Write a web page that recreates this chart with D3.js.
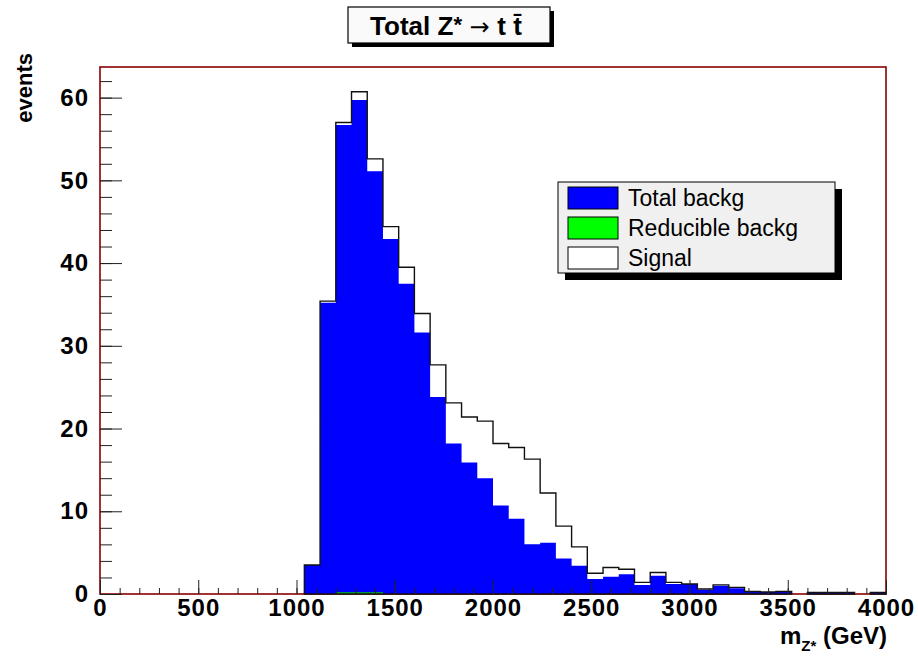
<!DOCTYPE html>
<html>
<head>
<meta charset="utf-8">
<script src="https://cdn.jsdelivr.net/npm/d3@7"></script>
<style>
  body { margin: 0; background: #fff; }
  svg text { font-family: "Liberation Sans", Arial, Helvetica, sans-serif; }
</style>
</head>
<body>
<svg id="chart" width="918" height="659"></svg>
<script>
// lower edges of the 80 GeV bins that hold something (everything below 1040 is empty)
const binLow = [1040, 1120, 1200, 1280, 1360, 1440, 1520, 1600, 1680, 1760,
                1840, 1920, 2000, 2080, 2160, 2240, 2320, 2400, 2480, 2560,
                2640, 2720, 2800, 2880, 2960, 3040, 3120, 3200, 3280, 3360,
                3440, 3520, 3600, 3680, 3760, 3840, 3920];
const binWidth = 80;

// total background (blue)
const backg = [3.5, 35.2, 56.7, 59.7, 51.1, 42.9, 37.5, 31.6, 23.8, 18.2,
               15.9, 14.0, 10.7, 9.1, 6.0, 6.2, 4.3, 3.4, 1.8, 2.1,
               2.4, 1.1, 2.2, 1.2, 1.2, 0.5, 1.0, 0.7, 0.3, 0.25,
               0.3, 0, 0.2, 0.2, 0.2, 0, 0.2];
// signal, stacked on top of the background (white)
const signal = [0, 0.2, 0.3, 1.0, 1.5, 1.5, 2.0, 2.3, 3.9, 4.9,
                5.5, 6.9, 7.5, 8.6, 10.3, 6.0, 3.9, 2.3, 0.7, 1.1,
                0.6, 0.3, 0.4, 0.2, 0, 0.1, 0.1, 0.1, 0, 0,
                0, 0, 0, 0, 0, 0, 0];
// reducible background (green)
const reducible = [0, 0, 0.2, 0.2, 0.2, 0, 0, 0, 0, 0,
                   0, 0, 0, 0, 0, 0, 0, 0, 0, 0,
                   0, 0, 0, 0, 0, 0, 0, 0, 0, 0,
                   0, 0, 0, 0, 0, 0, 0];

const xTicks = [0, 500, 1000, 1500, 2000, 2500, 3000, 3500, 4000];
const yTicks = [0, 10, 20, 30, 40, 50, 60];
const legendItems = ["Total backg", "Reducible backg", "Signal"];
const legendColors = ["#0000ff", "#00ff00", "#ffffff"];

const svg = d3.select("#chart");

// frame
const frame = {left: 100, right: 886, top: 67, bottom: 594};

let x = d3.scaleLinear().domain([0, 4000]).range([frame.left, frame.right]);
let y = d3.scaleLinear().domain([0, 63.7]).range([frame.bottom, frame.top]);

// bins as objects
let bins = binLow.map((lo, i) => ({
    lo: lo,
    hi: lo + binWidth,
    backg: backg[i],
    total: backg[i] + signal[i],
    red: reducible[i]
}));

// frame background
svg.append("rect")
    .attr("x", frame.left).attr("y", frame.top)
    .attr("width", frame.right - frame.left)
    .attr("height", frame.bottom - frame.top)
    .attr("fill", "#fff");

// red frame
svg.append("rect")
    .attr("x", frame.left).attr("y", frame.top)
    .attr("width", frame.right - frame.left)
    .attr("height", frame.bottom - frame.top)
    .attr("fill", "none")
    .attr("stroke", "#8b0000")
    .attr("stroke-width", 1.6);

// step points for an area: two points per bin
let stepPoints = function (key) {
    let pts = [];
    bins.forEach(b => {
        pts.push({x: b.lo, v: b[key]});
        pts.push({x: b.hi, v: b[key]});
    });
    return pts;
};

let area = d3.area()
    .defined(d => d.v > 0)
    .x(d => x(d.x))
    .y0(y(0))
    .y1(d => y(d.v));

// signal + background (white, outlined later)
let totalPts = stepPoints("total");
svg.append("path")
    .attr("d", area(totalPts))
    .attr("fill", "#fff");

// total background
svg.append("path")
    .attr("d", area(stepPoints("backg")))
    .attr("fill", "#0000ff");

// reducible background
svg.append("path")
    .attr("d", area(stepPoints("red")))
    .attr("fill", "#00c000");

// outline of the stack on top
svg.append("path")
    .attr("d", area(totalPts))
    .attr("fill", "none")
    .attr("stroke", "#111")
    .attr("stroke-width", 1.4);

// x axis: minor ticks, then major ticks with labels
let xMinor = d3.axisBottom(x)
    .tickValues(d3.range(0, 4001, 100))
    .tickSize(-6).tickSizeOuter(0).tickFormat("");
svg.append("g")
    .attr("transform", "translate(0," + frame.bottom + ")")
    .call(xMinor)
    .call(g => g.select(".domain").remove())
    .call(g => g.selectAll("line").attr("stroke", "#222"));

let xAxis = d3.axisBottom(x)
    .tickValues(xTicks)
    .tickSize(-14).tickSizeOuter(0).tickPadding(5)
    .tickFormat(d3.format("d"));
svg.append("g")
    .attr("transform", "translate(0," + frame.bottom + ")")
    .call(xAxis)
    .call(g => g.select(".domain").remove())
    .call(g => g.selectAll("line").attr("stroke", "#222"))
    .call(g => g.selectAll("text")
        .attr("font-size", 24).attr("font-weight", "bold")
        .attr("letter-spacing", 1).attr("fill", "#000")
        .attr("font-family", "Liberation Sans, Arial, sans-serif"));

// y axis
let yMinor = d3.axisLeft(y)
    .tickValues(d3.range(0, 63, 2))
    .tickSize(-12).tickSizeOuter(0).tickFormat("");
svg.append("g")
    .attr("transform", "translate(" + frame.left + ",0)")
    .call(yMinor)
    .call(g => g.select(".domain").remove())
    .call(g => g.selectAll("line").attr("stroke", "#222"));

let yAxis = d3.axisLeft(y)
    .tickValues(yTicks)
    .tickSize(-22).tickSizeOuter(0).tickPadding(11)
    .tickFormat(d3.format("d"));
svg.append("g")
    .attr("transform", "translate(" + frame.left + ",0)")
    .call(yAxis)
    .call(g => g.select(".domain").remove())
    .call(g => g.selectAll("line").attr("stroke", "#222"))
    .call(g => g.selectAll("text")
        .attr("font-size", 24).attr("font-weight", "bold")
        .attr("letter-spacing", 1).attr("fill", "#000")
        .attr("font-family", "Liberation Sans, Arial, sans-serif"));

// axis titles
svg.append("text")
    .attr("transform", "translate(32,53) rotate(-90)")
    .attr("text-anchor", "end")
    .attr("font-size", 22).attr("font-weight", "bold")
    .text("events");

let xTitle = svg.append("text")
    .attr("x", 887).attr("y", 644)
    .attr("text-anchor", "end")
    .attr("font-size", 24).attr("font-weight", "bold");
xTitle.append("tspan").text("m");
xTitle.append("tspan").attr("font-size", 15).attr("dy", 7).text("Z*");
xTitle.append("tspan").attr("dy", -7).text(" (GeV)");

// title box with shadow
let titleBox = {x: 348, y: 7, w: 202, h: 36};
svg.append("rect")
    .attr("x", titleBox.x + 4).attr("y", titleBox.y + 4)
    .attr("width", titleBox.w).attr("height", titleBox.h)
    .attr("fill", "#000");
svg.append("rect")
    .attr("x", titleBox.x).attr("y", titleBox.y)
    .attr("width", titleBox.w).attr("height", titleBox.h)
    .attr("fill", "#fafafa").attr("stroke", "#000").attr("stroke-width", 1.2);
let title = svg.append("text")
    .attr("x", titleBox.x + titleBox.w / 2 - 3).attr("y", 35)
    .attr("text-anchor", "middle")
    .attr("font-size", 26).attr("font-weight", "bold");
title.append("tspan").text("Total Z");
title.append("tspan").attr("font-size", 22).attr("dy", -3).text("*");
title.append("tspan").attr("dy", 3).attr("font-weight", "normal")
    .attr("font-family", "DejaVu Sans, sans-serif").attr("font-size", 24).text(" \u2192 ");
title.append("tspan").text("t t\u0304");

// legend
let leg = {x: 558, y: 182, w: 277, h: 91};
svg.append("rect")
    .attr("x", leg.x + 7).attr("y", leg.y + 7)
    .attr("width", leg.w).attr("height", leg.h)
    .attr("fill", "#000");
svg.append("rect")
    .attr("x", leg.x).attr("y", leg.y)
    .attr("width", leg.w).attr("height", leg.h)
    .attr("fill", "#f0f0f0").attr("stroke", "#000").attr("stroke-width", 1);

let rows = svg.selectAll(".leg-row")
    .data(legendItems)
    .enter()
    .append("g")
    .attr("class", "leg-row")
    .attr("transform", (d, i) => "translate(" + (leg.x + 10) + "," + (leg.y + 5 + i * 30) + ")");
rows.append("rect")
    .attr("width", 50).attr("height", 22)
    .attr("fill", (d, i) => legendColors[i])
    .attr("stroke", "#000").attr("stroke-width", 1);
rows.append("text")
    .attr("x", 60).attr("y", 19)
    .attr("font-size", 23)
    .text(d => d);
</script>
</body>
</html>
